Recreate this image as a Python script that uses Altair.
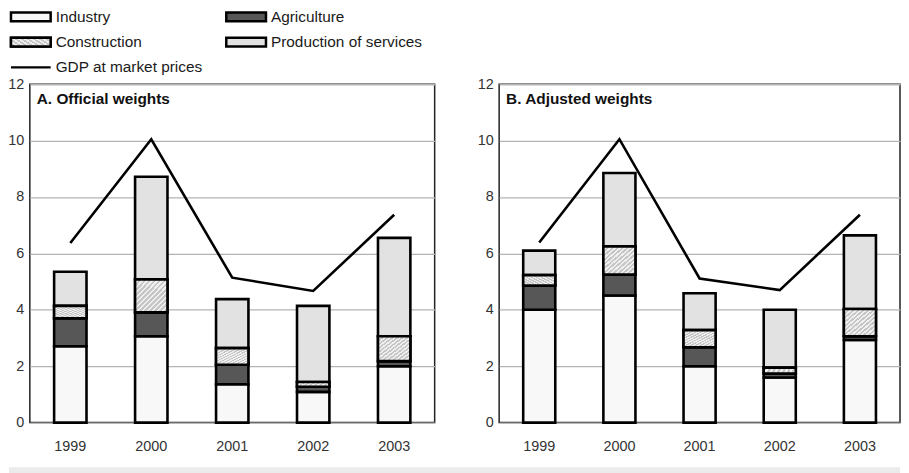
import altair as alt
import pandas as pd

FONT = "Liberation Sans"

years = ["1999", "2000", "2001", "2002", "2003"]
components = ["Industry", "Agriculture", "Construction", "Production of services"]
component_colors = ["#f8f8f8", "#575757", "#dcdcdc", "#e2e2e2"]
panel_titles = ["A. Official weights", "B. Adjusted weights"]
gdp_label = "GDP at market prices"

# Panel A: official weights (contributions, percentage points)
a_industry = [2.71, 3.06, 1.36, 1.09, 2.00]
a_agriculture = [0.99, 0.85, 0.69, 0.18, 0.18]
a_construction = [0.44, 1.17, 0.59, 0.17, 0.88]
a_services = [1.21, 3.64, 1.74, 2.70, 3.49]
a_gdp = [6.37, 10.05, 5.14, 4.67, 7.37]

# Panel B: adjusted weights
b_industry = [4.00, 4.51, 2.00, 1.60, 2.93]
b_agriculture = [0.86, 0.74, 0.67, 0.14, 0.13]
b_construction = [0.37, 1.00, 0.61, 0.21, 0.97]
b_services = [0.87, 2.60, 1.31, 2.05, 2.61]
b_gdp = [6.39, 10.05, 5.11, 4.70, 7.37]

y_ticks = [0, 2, 4, 6, 8, 10, 12]


def stacked_frame(ind, agr, con, ser):
    rows = []
    for i, yr in enumerate(years):
        base = 0.0
        for comp, vals in zip(components, [ind, agr, con, ser]):
            rows.append({"year": yr, "comp": comp, "y0": base, "y1": base + vals[i]})
            base += vals[i]
    return pd.DataFrame(rows)


def hatch():
    n = 26
    stops = []
    for k in range(n):
        c = "#c6c6c6" if k % 2 == 0 else "#efefef"
        stops.append(alt.GradientStop(offset=k / n, color=c))
        stops.append(alt.GradientStop(offset=(k + 1) / n, color=c))
    return alt.LinearGradient(gradient="linear", stops=stops, x1=0, y1=0, x2=1, y2=1)


fill_scale = alt.Scale(domain=components, range=component_colors)


def panel(ind, agr, con, ser, gdp, title, width):
    df = stacked_frame(ind, agr, con, ser)
    gdf = pd.DataFrame({"year": years, "gdp": gdp})
    xenc = alt.X(
        "year:N",
        sort=years,
        scale=alt.Scale(paddingInner=0.6, paddingOuter=0.3),
        axis=alt.Axis(title=None, labelAngle=0, ticks=False, domain=False,
                      labelPadding=17, labelFontSize=14.5),
    )
    yaxis = alt.Axis(title=None, values=y_ticks, grid=True, gridColor="#b3b3b3",
                     gridWidth=1.3, domain=False, ticks=False, labelPadding=6,
                     labelFontSize=14.5)
    bars = alt.Chart(df).mark_bar(stroke="black", strokeWidth=2.6).encode(
        x=xenc,
        y=alt.Y("y1:Q", scale=alt.Scale(domain=[0, 12], nice=False), axis=yaxis),
        y2="y0:Q",
        fill=alt.Fill("comp:N", scale=fill_scale, legend=None),
    )
    hatch_layer = alt.Chart(df).transform_filter(
        alt.datum.comp == "Construction"
    ).mark_bar(fill=hatch(), stroke="black", strokeWidth=2.6).encode(
        x=alt.X("year:N", sort=years),
        y="y1:Q",
        y2="y0:Q",
    )
    line = alt.Chart(gdf).mark_line(color="black", strokeWidth=2.6).encode(
        x=alt.X("year:N", sort=years),
        y="gdp:Q",
    )
    label = alt.Chart(pd.DataFrame({"t": [title]})).mark_text(
        align="left", baseline="top", fontWeight="bold", fontSize=15.5,
        font=FONT, color="#111"
    ).encode(text="t:N", x=alt.value(7), y=alt.value(8))
    return alt.layer(bars, hatch_layer, line, label).properties(width=width, height=341)


chart_a = panel(a_industry, a_agriculture, a_construction, a_services, a_gdp,
                panel_titles[0], 408)
chart_b = panel(b_industry, b_agriculture, b_construction, b_services, b_gdp,
                panel_titles[1], 404)

# Legend built from data
legend_names = components + [gdp_label]
legend_df = pd.DataFrame({
    "name": legend_names,
    "col": [i % 2 for i in range(len(legend_names))],
    "row": [i // 2 for i in range(len(legend_names))],
    "kind": ["box"] * len(components) + ["line"],
})
lbase = alt.Chart(legend_df).encode(
    x=alt.X("col:Q", scale=alt.Scale(domain=[0, 1], range=[1, 218]), axis=None),
    y=alt.Y("row:Q", scale=alt.Scale(domain=[0, 2], range=[6, 57]), axis=None),
)
box_shape = "M-1,-0.22L1,-0.22L1,0.22L-1,0.22Z"
lboxes = lbase.transform_filter(alt.datum.kind == "box").mark_point(
    shape=box_shape, size=1600, filled=True, opacity=1, stroke="black",
    strokeWidth=2.5, strokeOpacity=1,
).encode(fill=alt.Fill("name:N", scale=fill_scale, legend=None))
lhatch = lbase.transform_filter(alt.datum.name == "Construction").mark_point(
    shape=box_shape, size=1600, filled=True, opacity=1, fill=hatch(),
    stroke="black", strokeWidth=2.5, strokeOpacity=1,
)
lline = lbase.transform_filter(alt.datum.kind == "line").mark_point(
    shape="M-1,0L1,0", size=1600, filled=False, stroke="black",
    strokeWidth=2.5, opacity=1,
)
ltext = lbase.mark_text(align="left", baseline="middle", dx=25, fontSize=15.5,
                        font=FONT, color="#1a1a1a").encode(text="name:N")
legend = alt.layer(lboxes, lhatch, lline, ltext).properties(
    width=460, height=50, view=alt.ViewBackground(strokeWidth=0)
)

# Light grey footer band
band = alt.Chart(pd.DataFrame({"b": [0]})).mark_rect(color="#ebebeb").encode(
    x=alt.value(-21), x2=alt.value(877), y=alt.value(13), y2=alt.value(22)
).properties(width=400, height=8, view=alt.ViewBackground(strokeWidth=0))

chart = alt.vconcat(
    legend,
    alt.hconcat(chart_a, chart_b, spacing=41),
    band,
    spacing=-1,
).properties(
    padding={"left": -2, "top": -3, "right": 0, "bottom": 0}
).configure_view(
    stroke="#222", strokeWidth=1.5
).configure_axis(
    labelFont=FONT, labelColor="#333"
)

chart.save("out.html", embed_options={"renderer": "svg", "actions": False})
